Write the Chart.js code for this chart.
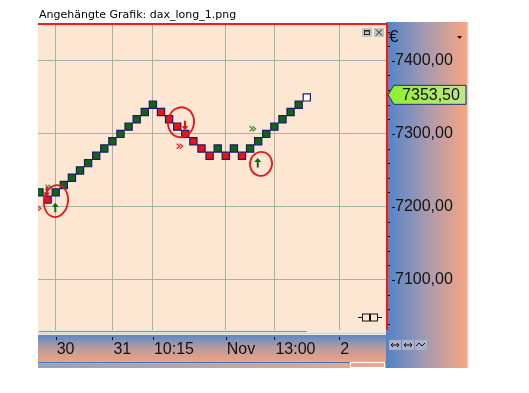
<!DOCTYPE html>
<html>
<head>
<meta charset="utf-8">
<script src="https://cdn.jsdelivr.net/npm/chart.js@4.4.1/dist/chart.umd.min.js"></script>
<style>
  html, body { margin: 0; padding: 0; background: #fff; }
  #wrap { position: relative; width: 529px; height: 393px; overflow: hidden; }
  #chart { position: absolute; left: 0; top: 0; }
  #title { position: absolute; left: 39px; top: 8px; font: 11px "DejaVu Sans", Verdana, sans-serif; color: #000; white-space: nowrap; }
</style>
</head>
<body>
<div id="wrap">
  <canvas id="chart" width="529" height="393"></canvas>
  <div id="title">Angehängte Grafik: dax_long_1.png</div>
</div>
<script>
// ---------- Data (one box per column, box size 10 points) ----------
const boxValues = [
    7220, 7210, 7220, 7230, 7240, 7250, 7260, 7270, 7280, 7290, 7300, 7310, 7320, 7330, 7340,
    7330, 7320, 7310, 7300, 7290, 7280, 7270,
    7280, 7270, 7280, 7270, 7280, 7290, 7300, 7310, 7320, 7330, 7340, 7350
];
const boxKinds = [
    "G", "R", "G", "G", "G", "G", "G", "G", "G", "G", "G", "G", "G", "G", "G",
    "R", "R", "R", "R", "R", "R", "R",
    "G", "R", "G", "R", "G", "G", "G", "G", "G", "G", "G", "O"
];
const tickCols   = [2, 9, 14, 23, 29, 37];
const tickLabels = ["30", "31", "10:15", "Nov", "13:00", "2"];
const lastPrice  = 7353.5;

// signals and hand drawn marks, as [column, price]
const buyArrows     = [[1.95, 7199], [26.95, 7260]];
const sellArrows    = [[0.9, 7221], [17.96, 7312]];
const greenChevrons = [[1.1, 7227], [26.3, 7307]];
const redChevrons   = [[-0.2, 7198], [17.3, 7283]];
const markCircles   = [[2.04, 7208], [17.47, 7316], [27.35, 7259]];

// ---------- Styles ----------
const GRID    = "#a3b3aa";
const NAVY    = "#1b1b6b";
const AXISFNT = { family: "'Liberation Sans', Arial, sans-serif", size: 16 };
const circleRadii = [[12, 16], [13, 15], [11, 12]];
const kindColor = { G: "#126412", R: "#f51010", O: "#ffffff" };

function fmtPrice(v) {
    return v.toFixed(2).replace(".", ",");
}

// ---------- Small drawing helpers ----------
function drawArrow(c, x, y, up, color) {
    c.fillStyle = color;
    c.beginPath();
    if (up) {
        c.moveTo(x, y - 5); c.lineTo(x + 3.5, y - 1); c.lineTo(x + 1, y - 1);
        c.lineTo(x + 1, y + 4.5); c.lineTo(x - 1, y + 4.5); c.lineTo(x - 1, y - 1);
        c.lineTo(x - 3.5, y - 1);
    } else {
        c.moveTo(x, y + 5); c.lineTo(x + 3.5, y + 1); c.lineTo(x + 1, y + 1);
        c.lineTo(x + 1, y - 4.5); c.lineTo(x - 1, y - 4.5); c.lineTo(x - 1, y + 1);
        c.lineTo(x - 3.5, y + 1);
    }
    c.closePath();
    c.fill();
}

function drawChevron(c, x, y, color) {
    c.strokeStyle = color;
    c.lineWidth = 1.2;
    for (let k = 0; k < 2; k++) {
        c.beginPath();
        c.moveTo(x - 3 + k * 3, y - 2.5);
        c.lineTo(x + k * 3, y);
        c.lineTo(x - 3 + k * 3, y + 2.5);
        c.stroke();
    }
}

function drawLoop(c, x, y, rx, ry) {
    c.strokeStyle = "#e8161a";
    c.lineWidth = 1.8;
    c.beginPath();
    c.ellipse(x, y, rx, ry, 0.15, -Math.PI * 0.45, Math.PI * 1.6);
    c.stroke();
}

// ---------- Backgrounds and panels ----------
const backdrop = {
    id: "backdrop",
    beforeDraw(chart) {
        const c = chart.ctx, a = chart.chartArea;
        const xs = chart.scales.x, ys = chart.scales.y;
        c.save();
        c.fillStyle = "#ffffff";
        c.fillRect(0, 0, chart.width, chart.height);

        // plot area
        c.fillStyle = "#fde7d3";
        c.fillRect(a.left, a.top, a.right - a.left, a.bottom - a.top);

        // price panel on the right
        let g = c.createLinearGradient(ys.left, 0, ys.right, 0);
        g.addColorStop(0, "#4f84ca");
        g.addColorStop(0.5, "#a89aae");
        g.addColorStop(1, "#f7a681");
        c.fillStyle = g;
        c.fillRect(ys.left, a.top - 2, ys.right - ys.left, xs.bottom - a.top + 2);

        // scrollbar strip under the plot
        c.fillStyle = "#eeeae2";
        c.fillRect(a.left, xs.top, a.right - a.left, 5);
        c.fillStyle = "#8c8c8c";
        c.fillRect(a.left + 1, xs.top + 1, 268, 1);
        c.fillStyle = "#cfd8c6";
        c.fillRect(a.left, xs.top + 3, a.right - a.left, 1);

        // time axis strip
        g = c.createLinearGradient(0, xs.top + 5, 0, xs.bottom - 6);
        g.addColorStop(0, "#5a88c6");
        g.addColorStop(0.45, "#b69aa2");
        g.addColorStop(1, "#f2a27f");
        c.fillStyle = g;
        c.fillRect(a.left, xs.top + 5, a.right - a.left, xs.bottom - xs.top - 11);
        c.fillStyle = "#3f78c0";
        c.fillRect(a.left, xs.bottom - 6, a.right - a.left, 1.5);
        g = c.createLinearGradient(a.left, 0, a.right, 0);
        g.addColorStop(0, "#9aa0b8");
        g.addColorStop(1, "#e9a88e");
        c.fillStyle = g;
        c.fillRect(a.left, xs.bottom - 4.5, a.right - a.left, 4.5);
        c.strokeStyle = "#ffffff";
        c.lineWidth = 1;
        c.strokeRect(a.right - 35.5, xs.bottom - 5.5, 34, 5);

        // window edge
        c.fillStyle = "#d8d8d8";
        c.fillRect(ys.right, a.top - 2, 1.5, xs.bottom - a.top + 2);
        c.restore();
    }
};

// ---------- Frame, signals, price tag, widgets ----------
const overlay = {
    id: "overlay",
    afterDraw(chart) {
        const c = chart.ctx, a = chart.chartArea;
        const xs = chart.scales.x, ys = chart.scales.y;
        const px = v => xs.getPixelForValue(v);
        const py = v => ys.getPixelForValue(v);
        c.save();

        // clip marks to the plot
        c.save();
        c.beginPath();
        c.rect(a.left, a.top, a.right - a.left, a.bottom - a.top);
        c.clip();
        greenChevrons.forEach(p => drawChevron(c, px(p[0]), py(p[1]), "#3b8a1e"));
        redChevrons.forEach(p => drawChevron(c, px(p[0]), py(p[1]), "#e02222"));
        buyArrows.forEach(p => drawArrow(c, px(p[0]), py(p[1]), true, "#0d6a14"));
        sellArrows.forEach(p => drawArrow(c, px(p[0]), py(p[1]), false, "#dd1111"));
        markCircles.forEach((p, i) => drawLoop(c, px(p[0]), py(p[1]), circleRadii[i][0], circleRadii[i][1]));
        c.restore();

        // red frame (top and right)
        c.fillStyle = "#ee1c1c";
        c.fillRect(a.left, a.top - 1, a.right - a.left + 2, 2);
        c.fillRect(a.right, a.top - 1, 2, a.bottom - a.top + 1);

        // window buttons
        [a.right - 24, a.right - 12].forEach((bx, i) => {
            c.fillStyle = "#c4c4c4";
            c.fillRect(bx, a.top + 4, 10, 9);
            c.strokeStyle = "#222";
            c.lineWidth = 1;
            if (i === 0) {
                c.strokeRect(bx + 2.5, a.top + 6.5, 5, 4);
                c.fillStyle = "#222";
                c.fillRect(bx + 2, a.top + 6, 6, 1.5);
            } else {
                c.beginPath();
                c.moveTo(bx + 2, a.top + 5.5); c.lineTo(bx + 8, a.top + 11.5);
                c.moveTo(bx + 8, a.top + 5.5); c.lineTo(bx + 2, a.top + 11.5);
                c.stroke();
            }
        });

        // link icon bottom right of plot
        const ly = a.bottom - 12.5;
        c.strokeStyle = "#111";
        c.lineWidth = 1;
        c.beginPath();
        c.moveTo(a.right - 28, ly); c.lineTo(a.right - 24, ly);
        c.moveTo(a.right - 8, ly); c.lineTo(a.right - 4, ly);
        c.stroke();
        c.strokeRect(a.right - 23.5, ly - 3.5, 7, 7);
        c.strokeRect(a.right - 15.5, ly - 3.5, 7, 7);

        // price axis tick marks
        c.fillStyle = "#111";
        for (let v = 7040; v <= 7440; v += 20) {
            const y = Math.round(py(v));
            if (v % 100 === 0) c.fillRect(a.right + 6, y, 3, 1);
            else c.fillRect(a.right + 2, y, 2, 1);
        }

        // time axis tick marks
        tickCols.forEach(t => c.fillRect(Math.round(px(t)), xs.top + 7, 1, 3));

        // currency and menu triangle
        c.font = "17px 'Liberation Sans', Arial, sans-serif";
        c.textBaseline = "middle";
        c.textAlign = "left";
        c.fillText("€", a.right + 3, a.top + 13);
        c.beginPath();
        c.moveTo(ys.right - 10, a.top + 12);
        c.lineTo(ys.right - 5, a.top + 12);
        c.lineTo(ys.right - 7.5, a.top + 15);
        c.closePath();
        c.fill();

        // last price tag
        const ty = py(lastPrice);
        const tl = a.right + 2, tr = ys.right - 1;
        const tg = c.createLinearGradient(tl, 0, tr, 0);
        tg.addColorStop(0, "#8ef02c");
        tg.addColorStop(1, "#c3e48e");
        c.fillStyle = tg;
        c.strokeStyle = "#1f2f6a";
        c.beginPath();
        c.moveTo(tl, ty);
        c.lineTo(tl + 6, ty - 9.5);
        c.lineTo(tr, ty - 9.5);
        c.lineTo(tr, ty + 9.5);
        c.lineTo(tl + 6, ty + 9.5);
        c.closePath();
        c.fill();
        c.stroke();
        c.fillStyle = "#111";
        c.font = "16px 'Liberation Sans', Arial, sans-serif";
        c.textAlign = "center";
        c.fillText(fmtPrice(lastPrice), (tl + tr) / 2 + 4, ty + 1);

        // zoom buttons under the price axis
        const by = xs.top + 10;
        [ys.left + 3, ys.left + 16, ys.left + 29].forEach((bx, i) => {
            c.fillStyle = "#a9b0c8";
            c.fillRect(bx, by, 12, 10);
            c.strokeStyle = "#111";
            c.beginPath();
            if (i < 2) {
                c.moveTo(bx + 2, by + 5); c.lineTo(bx + 10, by + 5);
                c.moveTo(bx + 4, by + 3); c.lineTo(bx + 2, by + 5); c.lineTo(bx + 4, by + 7);
                c.moveTo(bx + 8, by + 3); c.lineTo(bx + 10, by + 5); c.lineTo(bx + 8, by + 7);
            } else {
                c.moveTo(bx + 1, by + 6); c.lineTo(bx + 4, by + 3); c.lineTo(bx + 7, by + 6); c.lineTo(bx + 10, by + 3);
            }
            c.stroke();
        });
        c.restore();
    }
};

// ---------- Chart ----------
const points = boxValues.map((v, i) => ({ x: i, y: v }));

new Chart(document.getElementById("chart"), {
    type: "scatter",
    data: {
        datasets: [{
            data: points,
            showLine: false,
            pointStyle: "rect",
            pointRadius: 5.1,
            pointBorderWidth: 1.2,
            pointBackgroundColor: boxKinds.map(k => kindColor[k]),
            pointBorderColor: NAVY
        }]
    },
    options: {
        responsive: false,
        animation: false,
        events: [],
        layout: { padding: { left: 38, top: 24, right: 62, bottom: 25 } },
        plugins: { legend: { display: false }, tooltip: { enabled: false } },
        scales: {
            x: {
                type: "linear",
                min: -0.185,
                max: 42.78,
                afterBuildTicks: s => { s.ticks = tickCols.map(v => ({ value: v })); },
                afterFit: s => { s.height = 38; },
                grid: { color: GRID, drawTicks: false },
                border: { display: false },
                ticks: {
                    callback: v => tickLabels[tickCols.indexOf(v)],
                    align: "start",
                    labelOffset: 1,
                    padding: 10,
                    autoSkip: false,
                    maxRotation: 0,
                    color: "#111",
                    font: AXISFNT
                }
            },
            y: {
                position: "right",
                min: 7031.5,
                max: 7450.5,
                afterFit: s => { s.width = 81; },
                grid: {
                    drawTicks: false,
                    color: ctx => (ctx.tick && ctx.tick.value % 100 === 0) ? GRID : "rgba(0,0,0,0)"
                },
                border: { display: false },
                ticks: {
                    stepSize: 100,
                    padding: 9,
                    color: "#111",
                    font: AXISFNT,
                    callback: v => v % 100 === 0 ? fmtPrice(v) : ""
                }
            }
        }
    },
    plugins: [backdrop, overlay]
});
</script>
</body>
</html>
